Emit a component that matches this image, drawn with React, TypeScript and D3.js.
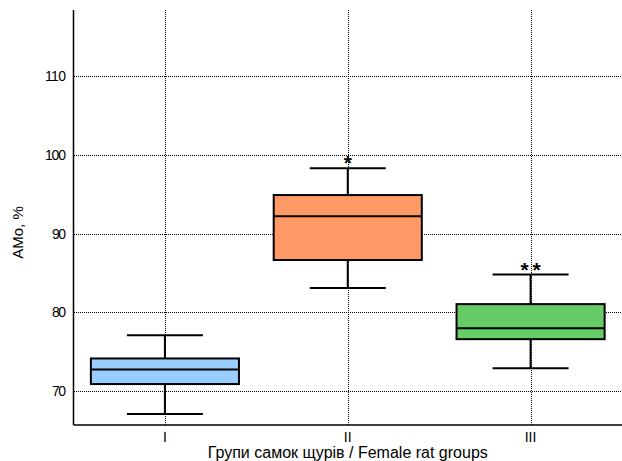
import React from "react";
import { scaleBand, scaleLinear } from "d3";

const groups = ["I", "II", "III"];
const whiskerLow = [67.1, 83.1, 72.9];
const q1 = [70.9, 86.65, 76.6];
const median = [72.75, 92.2, 78.0];
const q3 = [74.15, 94.9, 81.05];
const whiskerHigh = [77.1, 98.3, 84.8];
const marks = ["", "*", "**"];
const colors = ["#99ccff", "#ff9966", "#66cc66"];
const yTicks = [70, 80, 90, 100, 110];

const W = 622;
const H = 461;
const left = 73.5;
const right = 622;
const top = 10;
const bottom = 425;

const App = () => {
  const x = scaleBand().domain(groups).range([left, right]);
  const y = scaleLinear().domain([65.7, 118.4]).range([bottom, top]);
  const boxW = x.bandwidth() * 0.81;
  const capW = 76;
  const font = "Arial, 'Liberation Sans', sans-serif";
  const px = (v: number) => Math.round(v) + 0.5;

  return (
    <svg width={W} height={H} style={{ position: "absolute", left: 0, top: 0 }} fontFamily={font}>
      {/* grid */}
      <g stroke="#000" strokeWidth={1} strokeDasharray="1,1" shapeRendering="crispEdges">
        {yTicks.map((t) => (
          <line key={"gy" + t} x1={left} x2={right} y1={px(y(t))} y2={px(y(t))} />
        ))}
        {groups.map((g) => (
          <line key={"gx" + g} x1={px(x(g)! + x.bandwidth() / 2)} x2={px(x(g)! + x.bandwidth() / 2)}
            y1={top} y2={bottom} />
        ))}
      </g>

      {/* boxes */}
      {groups.map((g, i) => {
        const cx = x(g)! + x.bandwidth() / 2;
        return (
          <g key={g} stroke="#000" strokeWidth={2}>
            <line x1={cx} x2={cx} y1={y(whiskerHigh[i])} y2={y(q3[i])} />
            <line x1={cx} x2={cx} y1={y(q1[i])} y2={y(whiskerLow[i])} />
            <line x1={cx - capW / 2} x2={cx + capW / 2} y1={y(whiskerHigh[i])} y2={y(whiskerHigh[i])} />
            <line x1={cx - capW / 2} x2={cx + capW / 2} y1={y(whiskerLow[i])} y2={y(whiskerLow[i])} />
            <rect x={cx - boxW / 2} y={y(q3[i])} width={boxW} height={y(q1[i]) - y(q3[i])} fill={colors[i]} />
            <line x1={cx - boxW / 2} x2={cx + boxW / 2} y1={y(median[i])} y2={y(median[i])} />
            {marks[i] && (
              <text x={cx + 2} y={y(whiskerHigh[i]) + 2} textAnchor="middle" stroke="none" fill="#000"
                fontSize={21} fontWeight="bold" letterSpacing={4}>
                {marks[i]}
              </text>
            )}
          </g>
        );
      })}

      {/* axes */}
      <line x1={left} x2={left} y1={top} y2={bottom} stroke="#000" strokeWidth={1.5} />
      <line x1={left} x2={right} y1={bottom} y2={bottom} stroke="#000" strokeWidth={1.5} />
      {yTicks.map((t) => (
        <text key={"ty" + t} x={66} y={y(t)} dy="0.35em" textAnchor="end" fontSize={14} fill="#000"
          textLength={t >= 100 ? 21 : 14}>
          {t}
        </text>
      ))}
      {groups.map((g) => (
        <text key={"tx" + g} x={x(g)! + x.bandwidth() / 2} y={442} textAnchor="middle" fontSize={14} fill="#000">
          {g}
        </text>
      ))}
      <text x={(left + right) / 2} y={458} textAnchor="middle" fontSize={16} fill="#000">
        Групи самок щурів / Female rat groups
      </text>
      <text transform={`translate(23,${(top + bottom) / 2 + 15}) rotate(-90)`} textAnchor="middle" fontSize={15} fill="#000">
        AMo, %
      </text>
    </svg>
  );
};

export default App;
